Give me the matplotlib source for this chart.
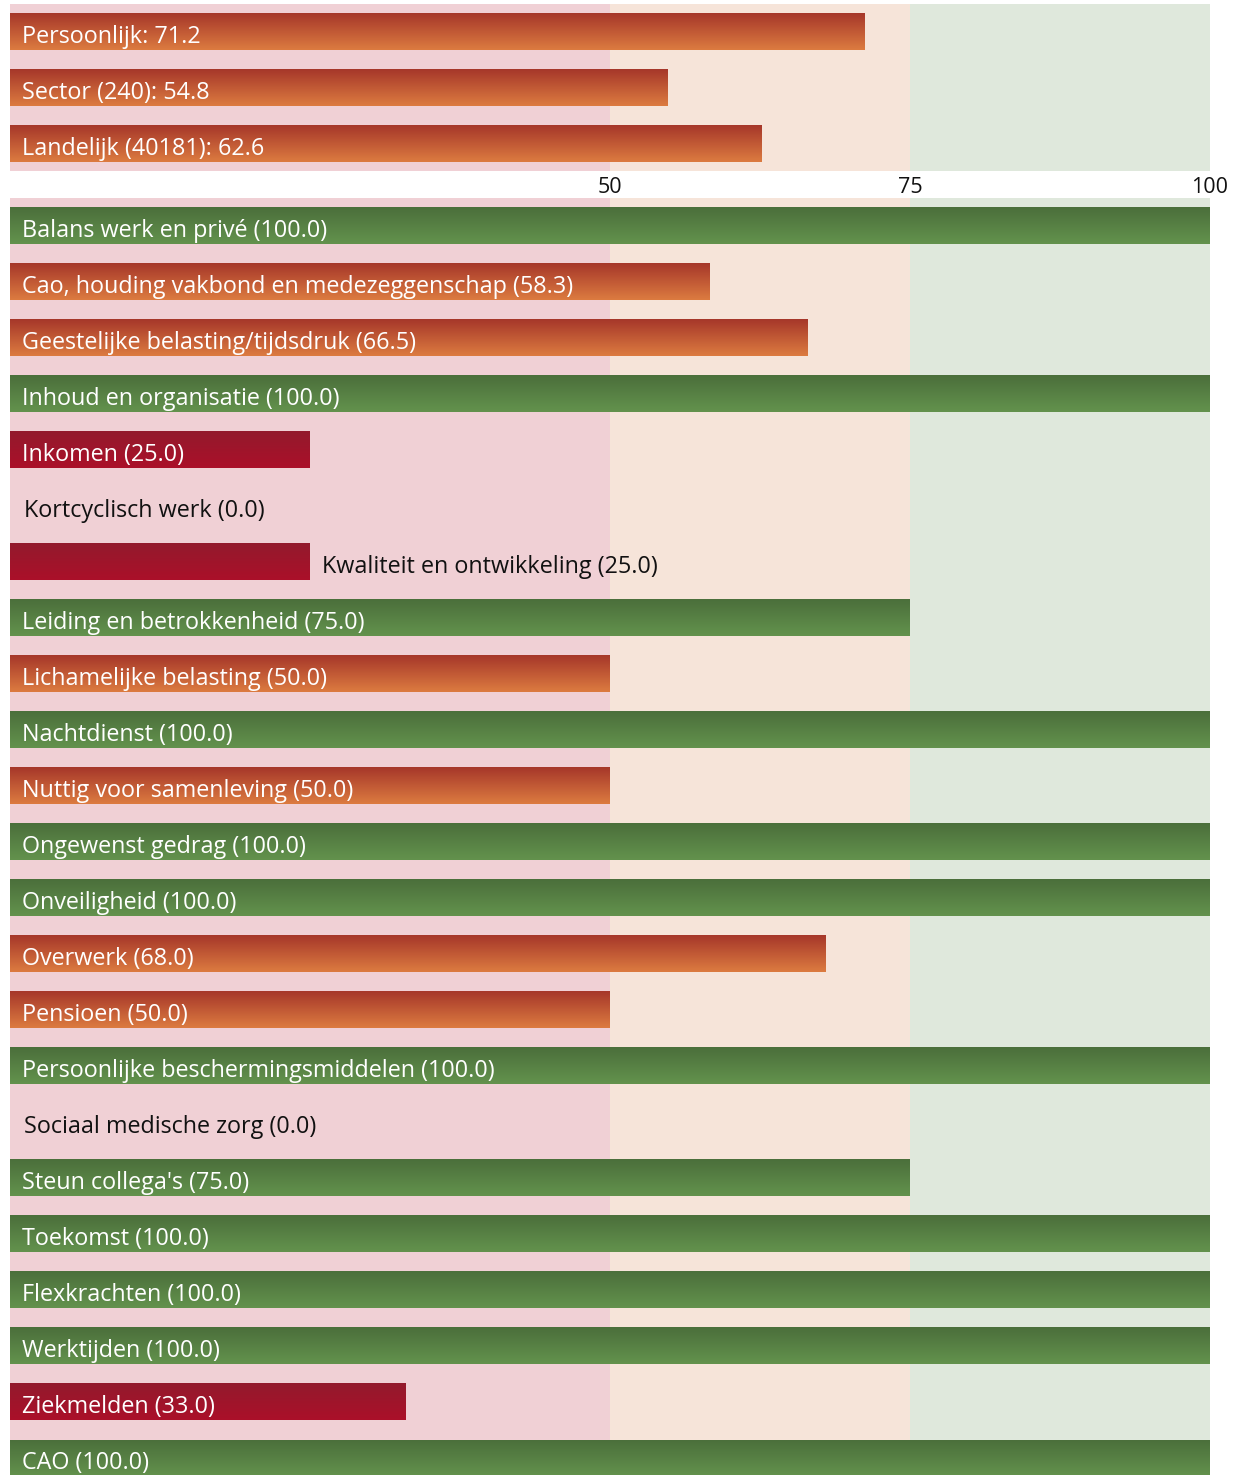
import numpy as np
import matplotlib
matplotlib.use('Agg')
import matplotlib.pyplot as plt
from matplotlib.colors import LinearSegmentedColormap

plt.rcParams['font.family'] = ['Open Sans', 'DejaVu Sans']

# summary scores
top_names = ['Persoonlijk', 'Sector (240)', 'Landelijk (40181)']
top_values = [71.2, 54.8, 62.6]

# per-topic scores
topics = ['Balans werk en privé', 'Cao, houding vakbond en medezeggenschap',
          'Geestelijke belasting/tijdsdruk', 'Inhoud en organisatie', 'Inkomen',
          'Kortcyclisch werk', 'Kwaliteit en ontwikkeling', 'Leiding en betrokkenheid',
          'Lichamelijke belasting', 'Nachtdienst', 'Nuttig voor samenleving',
          'Ongewenst gedrag', 'Onveiligheid', 'Overwerk', 'Pensioen',
          'Persoonlijke beschermingsmiddelen', 'Sociaal medische zorg',
          "Steun collega's", 'Toekomst', 'Flexkrachten', 'Werktijden',
          'Ziekmelden', 'CAO']
scores = [100.0, 58.3, 66.5, 100.0, 25.0, 0.0, 25.0, 75.0, 50.0, 100.0, 50.0,
          100.0, 100.0, 68.0, 50.0, 100.0, 0.0, 75.0, 100.0, 100.0, 100.0, 33.0, 100.0]

ticks = [50, 75, 100]

cmap_red = LinearSegmentedColormap.from_list('r', ['#931a2d', '#ab1029'])
cmap_orange = LinearSegmentedColormap.from_list('o', ['#a6372a', '#dc7b40'])
cmap_green = LinearSegmentedColormap.from_list('g', ['#4b6f3b', '#63924d'])

W, H = 1238, 1475
fig = plt.figure(figsize=(W / 100, H / 100), dpi=100)
x0, x1 = 10 / W, 1210 / W
ax_top = fig.add_axes([x0, 1 - 171 / H, x1 - x0, 167 / H])
ax_bot = fig.add_axes([x0, 0, x1 - x0, 1277 / H])

BAR_H = 36 / 56
grad = np.linspace(0, 1, 64).reshape(-1, 1)


def pick_cmap(v):
    if v < 50:
        return cmap_red
    if v < 75:
        return cmap_orange
    return cmap_green


def draw_panel(ax, labels, values, ylim):
    ax.axvspan(0, 50, color='#f0d0d5', lw=0, zorder=0)
    ax.axvspan(50, 75, color='#f6e4d9', lw=0, zorder=0)
    ax.axvspan(75, 100, color='#dfe8dc', lw=0, zorder=0)
    for i, (lab, v) in enumerate(zip(labels, values)):
        if v > 0:
            ax.imshow(grad, extent=[0, v, i + BAR_H / 2, i - BAR_H / 2],
                      aspect='auto', cmap=pick_cmap(v), zorder=2,
                      interpolation='bilinear')
        t = ax.text(1.0, i + 0.2, lab, color='white', fontsize=16.8,
                    va='baseline', ha='left', zorder=3)
        t._bar_value = v
    ax.set_xlim(0, 100)
    ax.set_ylim(*ylim)
    for s in ax.spines.values():
        s.set_visible(False)
    ax.set_yticks([])


draw_panel(ax_top, [f'{n}: {v}' for n, v in zip(top_names, top_values)],
           top_values, (2.48, -0.5))
draw_panel(ax_bot, [f'{n} ({v:.1f})' for n, v in zip(topics, scores)],
           scores, (22.3, -0.5))

ax_top.set_xticks(ticks)
ax_top.set_xticklabels([str(t) for t in ticks], fontsize=15.5, color='#111111')
ax_top.tick_params(axis='x', length=0, pad=4.5)
ax_bot.set_xticks([])

# put labels that don't fit outside their bar
fig.canvas.draw()
renderer = fig.canvas.get_renderer()
for ax in (ax_top, ax_bot):
    for t in ax.texts:
        v = t._bar_value
        ext = t.get_window_extent(renderer)
        bar_px = v * 12
        if ext.width + 14 > bar_px:
            t.set_x(v + 1.0 if v > 0 else 1.2)
            t.set_color('#111111')

fig.savefig('out.png', dpi=100)
